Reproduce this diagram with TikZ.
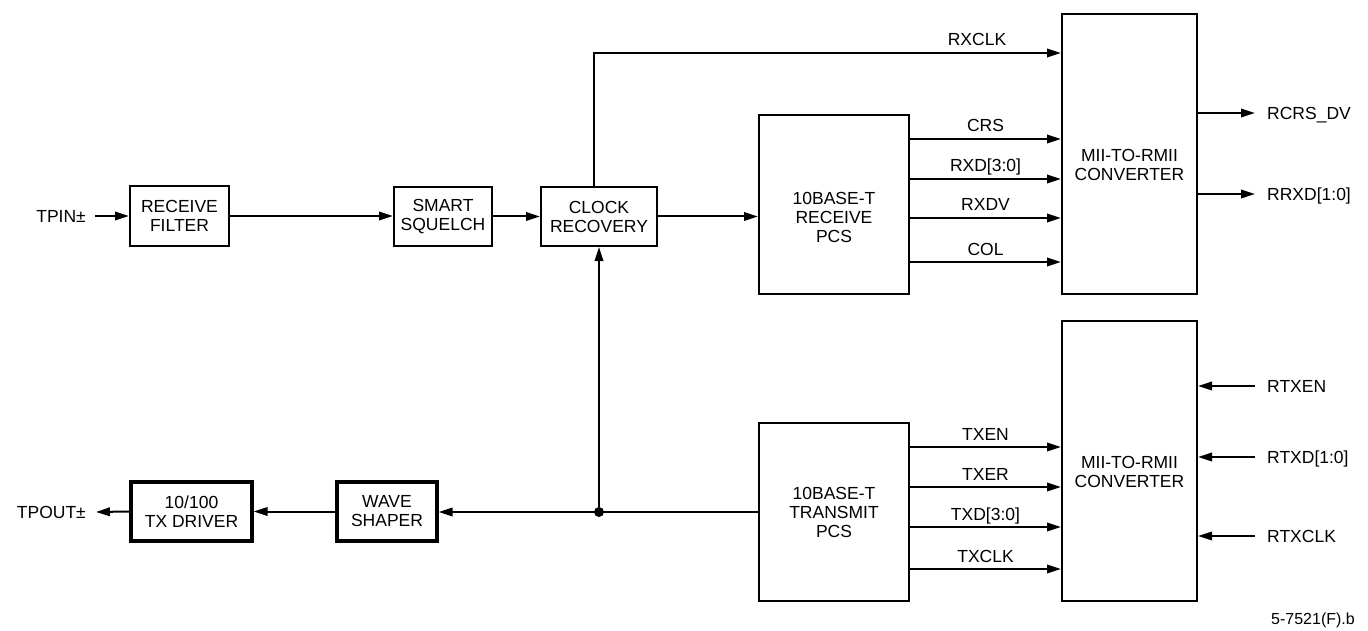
\documentclass[tikz,border=0pt]{standalone}
\usepackage{fontspec}
\setmainfont{Liberation Sans}
\usetikzlibrary{arrows.meta}
\begin{document}
\begin{tikzpicture}[x=1pt,y=-1pt,
  every node/.style={font=\fontsize{17.5}{19}\selectfont, inner sep=0pt},
  blk/.style={draw, line width=2pt, align=center},
  tblk/.style={draw, line width=3.3pt, align=center},
  txt/.style={align=center},
  side/.style={text height=12.5pt, text depth=0pt},
  sig/.style={line width=2pt, -{Triangle[length=14pt,width=8.5pt]}},
  wire/.style={line width=2pt},
  lbl/.style={midway, anchor=base, yshift=7pt}]
\useasboundingbox (0,0) rectangle (1368,631);

% blocks
\node[blk, minimum width=99pt, minimum height=60pt] (rf) at (179.5,216) {RECEIVE\\FILTER};
\node[blk, minimum width=98pt, minimum height=59pt] (sq) at (443,216.5) {SMART\\SQUELCH};
\node[blk, minimum width=116pt, minimum height=59pt] (cr) at (599,216.5) {CLOCK\\RECOVERY};
\node[tblk, minimum width=100pt, minimum height=59pt] (ws) at (387,511.5) {WAVE\\SHAPER};
\node[tblk, minimum width=121pt, minimum height=59pt] (td) at (191.5,511.5) {10/100\\TX DRIVER};
\node[blk, minimum width=150pt, minimum height=179pt] (rpcs) at (834,204.5) {};
\node[txt] (rpcst) at (834,217) {10BASE-T\\RECEIVE\\PCS};
\node[blk, minimum width=150pt, minimum height=178pt] (tpcs) at (834,512) {10BASE-T\\TRANSMIT\\PCS};
\node[blk, minimum width=135pt, minimum height=280pt] (mii1) at (1129.5,154) {};
\node[txt] (mii1t) at (1129.5,165) {MII-TO-RMII\\CONVERTER};
\node[blk, minimum width=135pt, minimum height=280pt] (mii2) at (1129.5,461) {};
\node[txt] (mii2t) at (1129.5,472) {MII-TO-RMII\\CONVERTER};

% external labels
\node[side, anchor=east] (tpin) at (86,216) {TPIN±};
\node[side, anchor=east] (tpout) at (86,512) {TPOUT±};
\node[side, anchor=west] (rcrs) at (1267,113) {RCRS\_DV};
\node[side, anchor=west] (rrxd) at (1267,194) {RRXD[1:0]};
\node[side, anchor=west] (rtxen) at (1267,386) {RTXEN};
\node[side, anchor=west] (rtxd) at (1267,457) {RTXD[1:0]};
\node[side, anchor=west] (rtxclk) at (1267,536) {RTXCLK};
\node[anchor=base] (rxclk) at (977,46) {RXCLK};
\node[anchor=base east, font=\fontsize{16}{19}\selectfont] (fig) at (1355,624) {5-7521(F).b};

% receive path
\draw[sig] ([xshift=9pt]tpin.east) -- (rf.west |- tpin.east);
\draw[sig] (rf.east) -- (sq.west |- rf.east);
\draw[sig] (sq.east) -- (cr.west);
\draw[sig] (cr.east) -- (rpcs.west |- cr.east);
\coordinate (rxc) at (594,53);
\draw[sig] (cr.north -| rxc) -- (rxc) -- (mii1.west |- rxc);

% receive signals
\draw[sig] (rpcs.east |- 0,139) -- (mii1.west |- 0,139) node[lbl] {CRS};
\draw[sig] (rpcs.east |- 0,179) -- (mii1.west |- 0,179) node[lbl] {RXD[3:0]};
\draw[sig] (rpcs.east |- 0,218) -- (mii1.west |- 0,218) node[lbl] {RXDV};
\draw[sig] (rpcs.east |- 0,262) -- (mii1.west |- 0,262) node[lbl] {COL};

\draw[sig] (mii1.east |- rcrs.west) -- ([xshift=-12pt]rcrs.west);
\draw[sig] (mii1.east |- rrxd.west) -- ([xshift=-12pt]rrxd.west);

% transmit signals
\draw[sig] (tpcs.east |- 0,447) -- (mii2.west |- 0,447) node[lbl] {TXEN};
\draw[sig] (tpcs.east |- 0,487) -- (mii2.west |- 0,487) node[lbl] {TXER};
\draw[sig] (tpcs.east |- 0,527) -- (mii2.west |- 0,527) node[lbl] {TXD[3:0]};
\draw[sig] (tpcs.east |- 0,569) -- (mii2.west |- 0,569) node[lbl] {TXCLK};

\draw[sig] ([xshift=-12pt]rtxen.west) -- (mii2.east |- rtxen.west);
\draw[sig] ([xshift=-12pt]rtxd.west) -- (mii2.east |- rtxd.west);
\draw[sig] ([xshift=-12pt]rtxclk.west) -- (mii2.east |- rtxclk.west);

% transmit path
\node[circle, fill, minimum size=10pt] (dot) at (599,512) {};
\draw[sig] (tpcs.west) -- (ws.east |- tpcs.west);
\draw[sig] (dot) -- (cr.south);
\draw[sig] (ws.west) -- (td.east |- ws.west);
\draw[sig] (td.west) -- ([xshift=10pt]tpout.east);
\end{tikzpicture}
\end{document}
